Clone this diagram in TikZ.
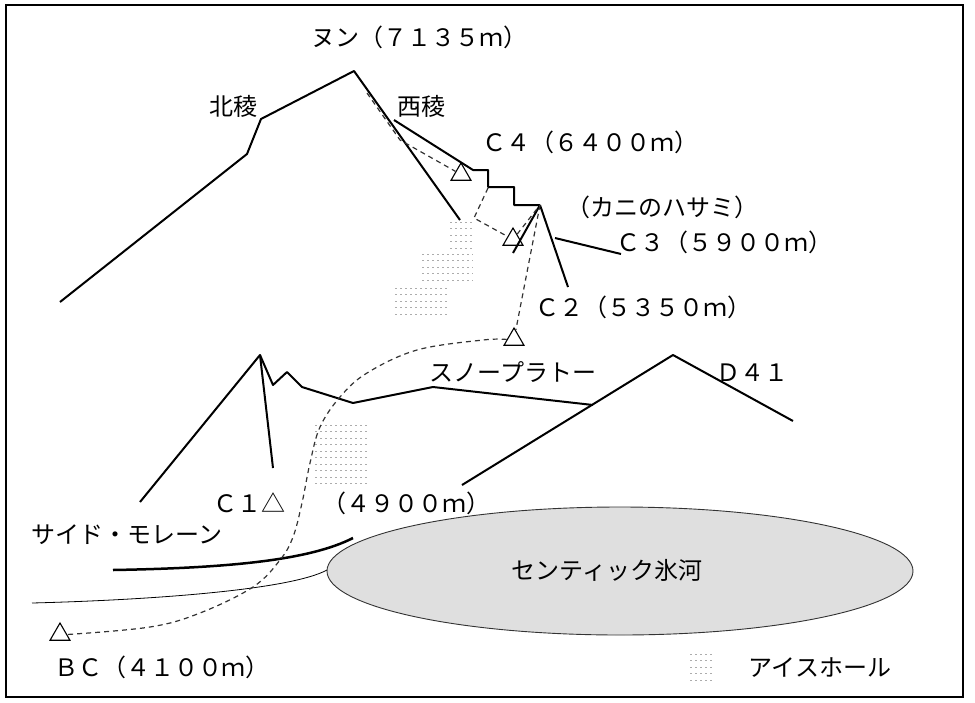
\documentclass[tikz,border=0pt]{standalone}
\usepackage{fontspec}
\newfontfamily\jpfont{Noto Sans CJK JP}
\usetikzlibrary{shapes.geometric}

% rows of short dashes for an ice hole patch: left, top, right, rows-1
\newcommand{\icehole}[4]{%
  \foreach \r in {0,...,#4}{\draw[hole] (#1,#2+6.5*\r) -- (#3,#2+6.5*\r);}}

\begin{document}
\begin{tikzpicture}[
    x=1pt, y=-1pt,
    ridge/.style={line width=2pt, line join=round},
    route/.style={dash pattern=on 5pt off 4pt, line width=1.2pt, black!80},
    camp/.style={regular polygon, regular polygon sides=3, draw, line width=1.1pt, minimum size=23pt, inner sep=0pt},
    lbl/.style={font=\jpfont\fontsize{24}{26}\selectfont, inner sep=0pt},
    hole/.style={gray!65, line width=0.9pt, dash pattern=on 2pt off 3pt}
]
    \useasboundingbox (0,0) rectangle (975,702);
    \draw[line width=2pt] (6,5) rectangle (963,697);

    % glacier
    \draw[fill=gray!25, draw=black!80, line width=0.9pt] (620,571) ellipse [x radius=293, y radius=64];
    \node[lbl] (glacier) at (607,570) {センティック氷河};

    % Nun and the west ridge
    \draw[ridge] (60,302) -- (247,154) -- (261,119) -- (354,71) -- (460,220);
    \draw[ridge] (394,120) -- (473,170) -- (488,170) -- (488,187) -- (514,187) -- (514,205) -- (540,205) coordinate (claw);
    \draw[ridge] (claw) -- (513,253);
    \draw[ridge] (claw) -- (568,287);
    \draw[ridge] (555,238) -- (621,254);

    % snow plateau and D41
    \draw[ridge] (140,502) -- (260,355) -- (273,385) -- (287,372) -- (302,387) -- (353,403) -- (433,387) -- (593,405);
    \draw[ridge] (260,355) -- (273,468);
    \draw[ridge] (462,485) -- (673,355) -- (793,421);

    % side moraine
    \draw[line width=2.5pt] (113,570) .. controls (230,568) and (310,560) .. (353,538);
    \draw[line width=0.8pt] (32,603) .. controls (150,600) and (290,590) .. (327,570);

    % ice holes
    \icehole{450}{222}{473}{4}
    \icehole{422}{254}{473}{4}
    \icehole{395}{288}{447}{4}
    \icehole{315}{425}{367}{9}
    \icehole{690}{654}{713}{4}

    % camps
    \node[camp] (c4) at (461,174.5) {};
    \node[camp] (c3) at (513,239.5) {};
    \node[camp] (c2) at (514,339.5) {};
    \node[camp] (bc) at (60,634.5) {};

    % route
    \draw[route] (367,93) -- (400,140) -- (c4);
    \draw[route] (488,188) -- (474,218) -- (c3);
    \draw[route] (c3) -- (claw);
    \draw[route] (claw) -- (c2);
    \draw[route] plot[smooth, tension=0.6] coordinates {(c2.west) (483,340) (417,350) (367,373) (340,397) (320,427) (310,463) (302,503) (293,537) (280,560) (253,587) (200,613) (150,627) (bc.east)};

    % labels
    \node[lbl] (nun) at (419,37) {ヌン（７１３５ｍ）};
    \node[lbl] (north) at (233,106) {北稜};
    \node[lbl] (west) at (421,106) {西稜};
    \node[lbl] (c4lbl) at (590,142) {Ｃ４（６４００ｍ）};
    \node[lbl] (claws) at (662,207) {（カニのハサミ）};
    \node[lbl] (c3lbl) at (724,242) {Ｃ３（５９００ｍ）};
    \node[lbl] (c2lbl) at (643,307) {Ｃ２（５３５０ｍ）};
    \node[lbl] (plateau) at (513,372) {スノープラトー};
    \node[lbl] (d41) at (752,373) {Ｄ４１};
    \node[lbl] (c1lbl) at (249,503) {Ｃ１△};
    \node[lbl] (c1alt) at (406,503) {（４９００ｍ）};
    \node[lbl] (moraine) at (127,535) {サイド・モレーン};
    \node[lbl] (bclbl) at (162,667) {ＢＣ（４１００ｍ）};
    \node[lbl] (legend) at (820,668) {アイスホール};
\end{tikzpicture}
\end{document}
